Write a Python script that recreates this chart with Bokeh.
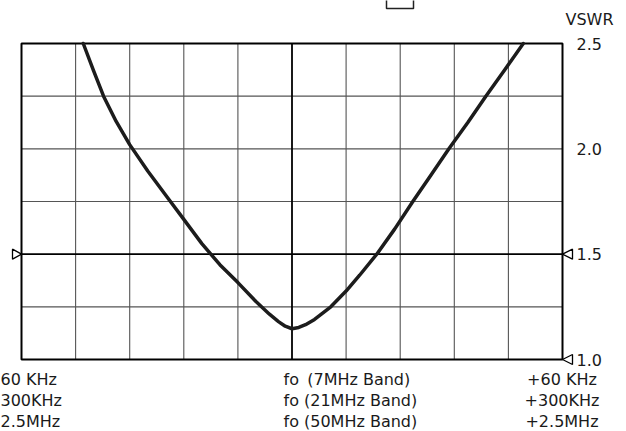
from bokeh.plotting import figure
from bokeh.models import Range1d
from bokeh.core.properties import value
from bokeh.embed import file_html
from bokeh.resources import INLINE

# ---- data -------------------------------------------------------------
# frequency offset from fo, expressed for the 7 MHz band (kHz); 12 kHz per grid division
offset_khz = [-46.3, -44.0, -41.8, -39.0, -36.0, -32.0, -28.0, -24.0, -20.0, -16.0,
              -12.0, -8.0, -5.0, -3.0, -1.5, 0.0, 1.5, 3.0, 5.0, 8.6,
              12.0, 15.0, 18.8, 22.8, 26.8, 30.8, 34.8, 39.0, 43.0, 47.2, 51.3]
vswr = [2.50, 2.37, 2.25, 2.13, 2.02, 1.895, 1.78, 1.665, 1.55, 1.45,
        1.365, 1.275, 1.215, 1.18, 1.158, 1.146, 1.152, 1.165, 1.19, 1.25,
        1.325, 1.40, 1.50, 1.62, 1.75, 1.875, 2.00, 2.125, 2.25, 2.375, 2.50]

x_grid_ticks = [-48, -36, -24, -12, 12, 24, 36, 48]
y_grid_ticks = [1.25, 1.75, 2.0, 2.25]
heavy_x = [0]
heavy_y = [1.5]
y_label_ticks = [1.0, 1.5, 2.0, 2.5]
y_label_text = ["1.0", "1.5", "2.0", "2.5"]
marker_levels_right = [1.0, 1.5]
marker_levels_left = [1.5]

left_labels = ["60 KHz", "300KHz", "2.5MHz"]
centre_labels = ["fo \u2009(7MHz Band)", "fo (21MHz Band)", "fo (50MHz Band)"]
right_labels = ["+60 KHz", "+300KHz", "+2.5MHz"]

X_MIN, X_MAX = -60, 60
Y_MIN, Y_MAX = 1.0, 2.5

# ---- layout (pixels on the canvas) -----------------------------------
W, H = 626, 431
FL, FR, FT, FB = 21, 562, 43, 359          # chart box edges
px_x = (FR - FL) / (X_MAX - X_MIN)
px_y = (FB - FT) / (Y_MAX - Y_MIN)


def cx(px):
    return X_MIN + (px - FL) / px_x


def cy(py):
    return Y_MIN + (FB - py) / px_y


FONT = value("DejaVu Sans")
FS = value("16px")
INK = "#1a1a1a"

p = figure(width=W, height=H, output_backend="svg", toolbar_location=None,
           x_range=Range1d(cx(0), cx(W)), y_range=Range1d(cy(H), cy(0)),
           x_axis_location=None, y_axis_location=None,
           min_border=0, background_fill_color="white", border_fill_color="white")
p.outline_line_color = None
p.grid.visible = False

# grid
p.segment(x0=x_grid_ticks, y0=[Y_MIN] * len(x_grid_ticks), x1=x_grid_ticks,
          y1=[Y_MAX] * len(x_grid_ticks), line_color="#555555", line_width=1.1)
p.segment(x0=[X_MIN] * len(y_grid_ticks), y0=y_grid_ticks, x1=[X_MAX] * len(y_grid_ticks),
          y1=y_grid_ticks, line_color="#555555", line_width=1.1)
p.segment(x0=heavy_x, y0=[Y_MIN], x1=heavy_x, y1=[Y_MAX], line_color="black", line_width=1.8)
p.segment(x0=[X_MIN], y0=heavy_y, x1=[X_MAX], y1=heavy_y, line_color="black", line_width=1.8)

# chart box
p.quad(left=[X_MIN], right=[X_MAX], bottom=[Y_MIN], top=[Y_MAX], fill_color=None,
       line_color="black", line_width=2)

# fragment of a box at the top edge
p.quad(left=[cx(386)], right=[cx(413)], bottom=[cy(8)], top=[cy(-4)], fill_color=None,
       line_color="#222222", line_width=1.5)

# curve
p.line(offset_khz, vswr, line_color="#1c1c1c", line_width=3.5,
       line_join="round", line_cap="round")

# triangle markers
p.patches(xs=[[X_MAX, X_MAX + 10 / px_x, X_MAX + 10 / px_x] for _ in marker_levels_right] +
             [[X_MIN, X_MIN - 9 / px_x, X_MIN - 9 / px_x] for _ in marker_levels_left],
          ys=[[lv, lv + 5 / px_y, lv - 5 / px_y] for lv in marker_levels_right] +
             [[lv, lv + 5 / px_y, lv - 5 / px_y] for lv in marker_levels_left],
          fill_color="white", line_color="black", line_width=1.3)

# right scale labels
p.text(x=[cx(576)] * len(y_label_ticks), y=y_label_ticks, text=y_label_text,
       text_align="left", text_baseline="middle", text_font=FONT, text_font_size=FS,
       text_color=INK)
p.text(x=[cx(589)], y=[cy(19)], text=["VSWR"], text_align="center",
       text_baseline="middle", text_font=FONT, text_font_size=FS, text_color=INK)

# bottom frequency labels
base_px = [FB + 20, FB + 41, FB + 62]
ys = [cy(b) for b in base_px]
p.text(x=[cx(0)] * 3, y=ys, text=left_labels, text_align="left",
       text_baseline="alphabetic", text_font=FONT, text_font_size=FS, text_color=INK)
p.text(x=[cx(283)] * 3, y=ys, text=centre_labels, text_align="left",
       text_baseline="alphabetic", text_font=FONT, text_font_size=FS, text_color=INK)
p.text(x=[cx(561.5)] * 3, y=ys, text=right_labels, text_align="center",
       text_baseline="alphabetic", text_font=FONT, text_font_size=FS, text_color=INK)

open("out.html", "w").write(file_html(p, INLINE))
